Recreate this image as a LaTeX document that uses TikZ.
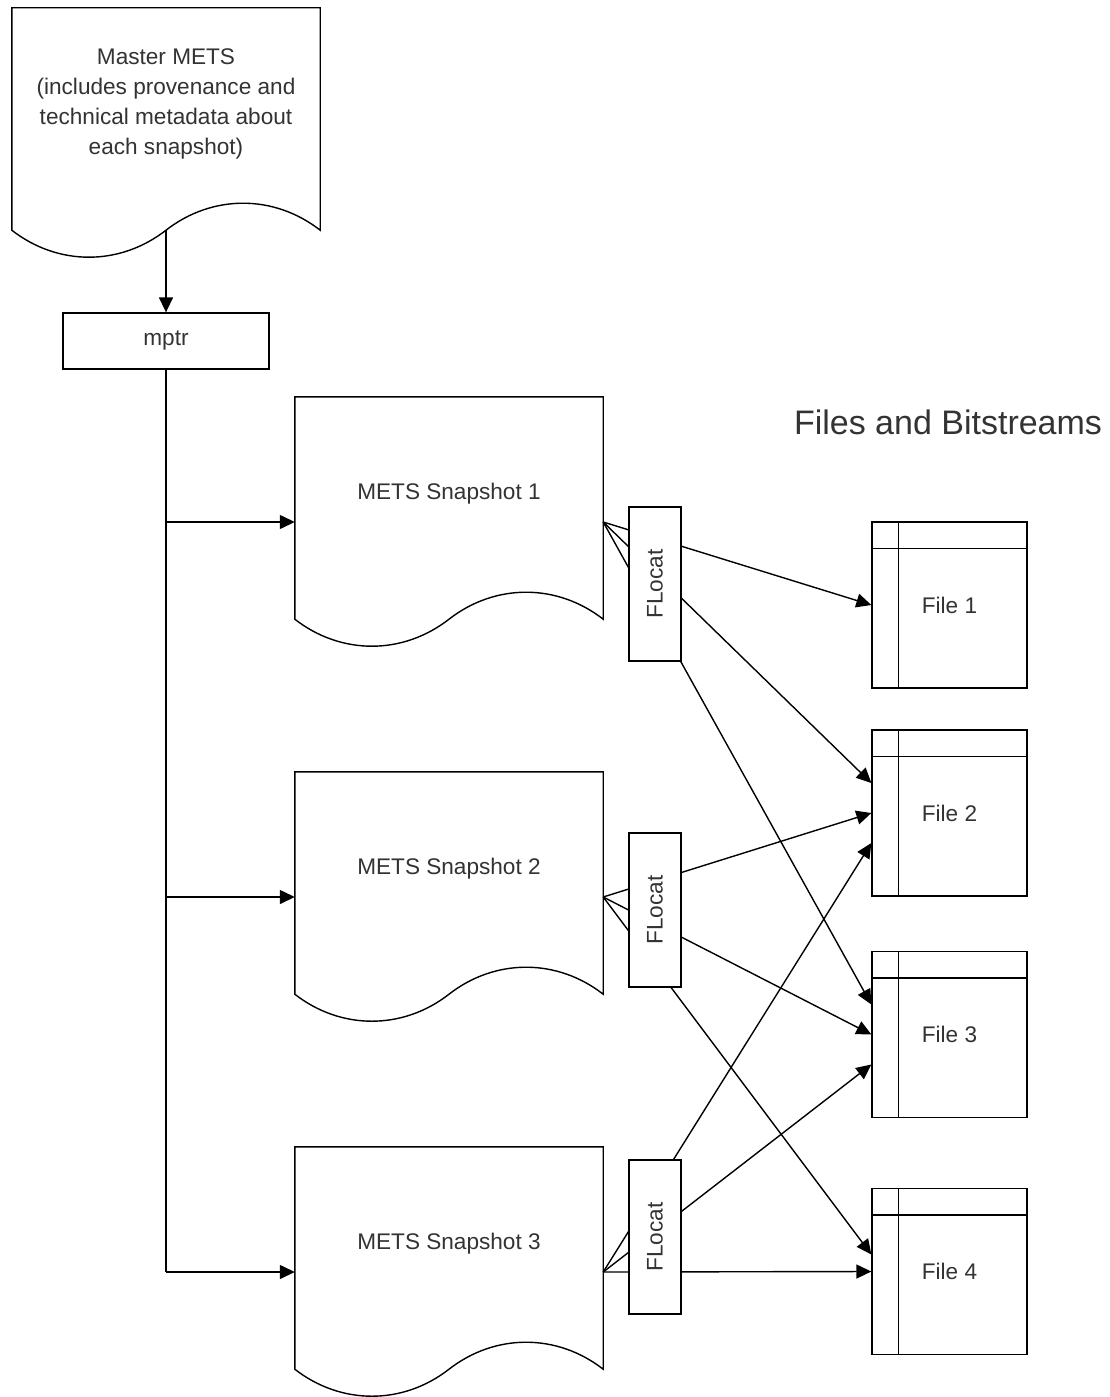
\documentclass[tikz,border=0pt]{standalone}
\usepackage{fontspec}
\setmainfont{Liberation Sans}
\usetikzlibrary{arrows.meta, positioning, calc}

\tikzset{
  doc/.style={minimum width=308pt, minimum height=250pt, inner sep=0pt},
  txt/.style={font=\fontsize{22.6}{30}\selectfont, text=black!80},
  boxnode/.style={draw, fill=white, line width=1.3pt, inner sep=0pt, txt},
  flocat/.style={boxnode, rotate=90, minimum width=154pt, minimum height=52pt},
  filebox/.style={boxnode, minimum width=155pt, minimum height=166pt},
  line/.style={line width=1.4pt},
  conn/.style={line, -{Triangle[length=15pt, width=14pt]}}
}

% document shape with wavy bottom edge
\newcommand{\docoutline}[1]{%
  \draw[line, fill=white]
    ($(#1.south west)+(0,-28)$) -- (#1.north west) -- (#1.north east) -- ($(#1.south east)+(0,-28)$)
    .. controls ($(#1.south west)!0.85!(#1.south east)+(0,-64)$) and ($(#1.south west)!0.65!(#1.south east)+(0,-64)$) .. ($(#1.south)+(0,-28)$)
    .. controls ($(#1.south west)!0.35!(#1.south east)+(0,8)$) and ($(#1.south west)!0.15!(#1.south east)+(0,8)$) .. ($(#1.south west)+(0,-28)$) -- cycle;
  \coordinate (#1-wave) at ($(#1.south)+(0,-28)$);
}

\begin{document}
\begin{tikzpicture}[x=1pt, y=-1pt]
  \useasboundingbox (0,0) rectangle (1109,1397);

  % Master METS and mptr
  \node[doc] (master) at (166,133) {};
  \docoutline{master}
  \node[txt, align=center] (master-label) at (166,104) {Master METS\\(includes provenance and\\technical metadata about\\each snapshot)};
  \node[boxnode, minimum width=206pt, minimum height=56pt] (mptr) at (166,341) {mptr};
  \draw[conn] (master-wave) -- (mptr.north);

  % snapshots
  \foreach \i/\y in {1/522, 2/897, 3/1272} {
    \node[doc] (snap\i) at (449,\y) {};
    \docoutline{snap\i}
    \node[txt] (snap\i-label) at ($(snap\i)+(0,-28)$) {METS Snapshot \i};
  }
  \draw[line] (mptr.south) -- (mptr.south |- snap3.west);
  \foreach \i in {1,2,3}
    \draw[conn] (mptr.south |- snap\i.west) -- (snap\i.west);

  % files
  \node[txt, font=\fontsize{34}{40}\selectfont] (files-title) at (948,422) {Files and Bitstreams};
  \foreach \i/\y in {1/605, 2/813, 3/1034.5, 4/1271.5} {
    \node[filebox] (file\i) at (949.5,\y) {File \i};
    \draw[line] ($(file\i.north west)+(0,27)$) -- ($(file\i.north east)+(0,27)$);
    \draw[line] ($(file\i.north west)+(27,0)$) -- ($(file\i.south west)+(27,0)$);
  }

  % FLocat links (behind the FLocat boxes)
  \foreach \f/\dy in {file1/0, file2/-30, file3/-30}
    \draw[conn] (snap1.east) -- ($(\f.west)+(0,\dy)$);
  \foreach \f/\dy in {file2/0, file3/0, file4/-17}
    \draw[conn] (snap2.east) -- ($(\f.west)+(0,\dy)$);
  \foreach \f/\dy in {file2/30, file3/30, file4/0}
    \draw[conn] (snap3.east) -- ($(\f.west)+(0,\dy)$);

  \node[flocat] (flocat1) at (655,584) {FLocat};
  \node[flocat] (flocat2) at (655,910) {FLocat};
  \node[flocat] (flocat3) at (655,1237) {FLocat};
\end{tikzpicture}
\end{document}
